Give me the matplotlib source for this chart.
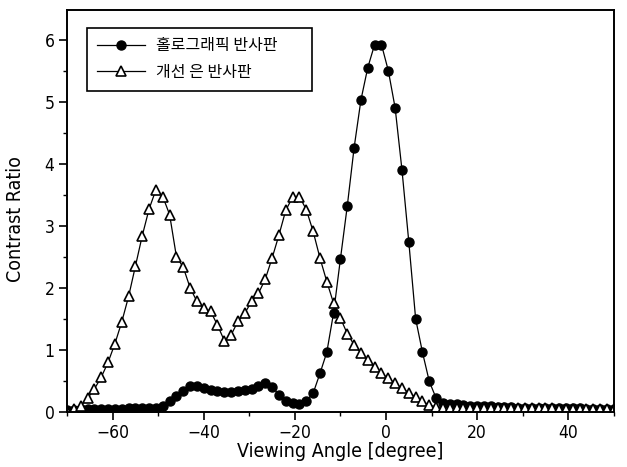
import numpy as np
import matplotlib.pyplot as plt
from matplotlib.ticker import MultipleLocator
from matplotlib import font_manager

# viewing angle [degree]
angle = [-70, -68.5, -67, -65.5, -64, -62.5, -61, -59.5, -58, -56.5,
         -55, -53.5, -52, -50.5, -49, -47.5, -46, -44.5, -43, -41.5,
         -40, -38.5, -37, -35.5, -34, -32.5, -31, -29.5, -28, -26.5,
         -25, -23.5, -22, -20.5, -19, -17.5, -16, -14.5, -13, -11.5,
         -10, -8.5, -7, -5.5, -4, -2.5, -1, 0.5, 2, 3.5,
         5, 6.5, 8, 9.5, 11, 12.5, 14, 15.5, 17, 18.5,
         20, 21.5, 23, 24.5, 26, 27.5, 29, 30.5, 32, 33.5,
         35, 36.5, 38, 39.5, 41, 42.5, 44, 45.5, 47, 48.5, 50]

# holographic reflector
holo = [0.03, 0.03, 0.04, 0.04, 0.04, 0.05, 0.05, 0.05, 0.05, 0.06,
        0.06, 0.06, 0.07, 0.07, 0.09, 0.17, 0.26, 0.34, 0.41, 0.41,
        0.39, 0.36, 0.34, 0.32, 0.32, 0.33, 0.35, 0.37, 0.42, 0.46,
        0.40, 0.28, 0.18, 0.14, 0.13, 0.18, 0.30, 0.62, 0.96, 1.60,
        2.47, 3.32, 4.26, 5.03, 5.55, 5.92, 5.92, 5.50, 4.90, 3.90,
        2.74, 1.50, 0.96, 0.49, 0.22, 0.15, 0.13, 0.12, 0.11, 0.10,
        0.10, 0.09, 0.09, 0.08, 0.08, 0.08, 0.07, 0.07, 0.07, 0.07,
        0.06, 0.06, 0.06, 0.06, 0.06, 0.06, 0.05, 0.05, 0.05, 0.05, 0.05]

# improved silver reflector
silver = [0.02, 0.04, 0.10, 0.22, 0.37, 0.56, 0.80, 1.10, 1.45, 1.86,
          2.35, 2.84, 3.27, 3.58, 3.47, 3.18, 2.50, 2.33, 2.00, 1.78,
          1.67, 1.62, 1.40, 1.15, 1.24, 1.46, 1.59, 1.78, 1.91, 2.14,
          2.48, 2.85, 3.25, 3.46, 3.47, 3.26, 2.91, 2.48, 2.10, 1.75,
          1.51, 1.26, 1.08, 0.95, 0.83, 0.73, 0.62, 0.54, 0.46, 0.38,
          0.31, 0.24, 0.17, 0.11, 0.08, 0.07, 0.07, 0.07, 0.07, 0.07,
          0.06, 0.06, 0.06, 0.06, 0.06, 0.06, 0.06, 0.06, 0.06, 0.06,
          0.06, 0.06, 0.05, 0.05, 0.05, 0.05, 0.05, 0.05, 0.05, 0.05, 0.05]

plt.rcParams['font.family'] = ['DejaVu Sans', 'Noto Sans CJK KR']
narrow = font_manager.FontProperties(family='DejaVu Sans', stretch='condensed', size=14)

fig = plt.figure(figsize=(6.27, 4.67), dpi=100)
ax = fig.add_axes([0.107, 0.118, 0.872, 0.861])

ax.plot(angle, holo, '-o', color='black', lw=0.9, ms=6.5, label='홀로그래픽 반사판')
ax.plot(angle, silver, '-^', color='black', lw=0.9, ms=7, mfc='white', mew=1.2,
        label='개선 은 반사판')

ax.set_xlim(-70, 50)
ax.set_ylim(0, 6.48)
ax.xaxis.set_major_locator(MultipleLocator(20))
ax.xaxis.set_minor_locator(MultipleLocator(10))
ax.yaxis.set_major_locator(MultipleLocator(1))
ax.yaxis.set_minor_locator(MultipleLocator(0.5))
ax.tick_params(which='both', direction='out', top=False, right=False)
ax.tick_params(which='major', length=6, width=1.2, pad=3)
ax.tick_params(which='minor', length=3, width=1)
tick_font = font_manager.FontProperties(family='DejaVu Sans', stretch='condensed', size=12.5)
for lab in ax.get_xticklabels() + ax.get_yticklabels():
    lab.set_fontproperties(tick_font)
for s in ax.spines.values():
    s.set_linewidth(1.4)

ax.set_xlabel('Viewing Angle [degree]', fontproperties=narrow, labelpad=0)
ax.set_ylabel('Contrast Ratio', fontproperties=narrow)
ax.yaxis.set_label_coords(-0.077, 0.48)

leg = ax.legend(loc='upper left', bbox_to_anchor=(0.037, 0.805, 0.411, 0.15),
                mode='expand', borderaxespad=0, fancybox=False,
                edgecolor='black', framealpha=1, handlelength=3.0,
                prop={'family': ['Noto Sans CJK KR'], 'size': 11.5},
                borderpad=0.6, labelspacing=0.6, handletextpad=0.7)
leg.get_frame().set_linewidth(1.2)

plt.savefig('out.png', dpi=100)
